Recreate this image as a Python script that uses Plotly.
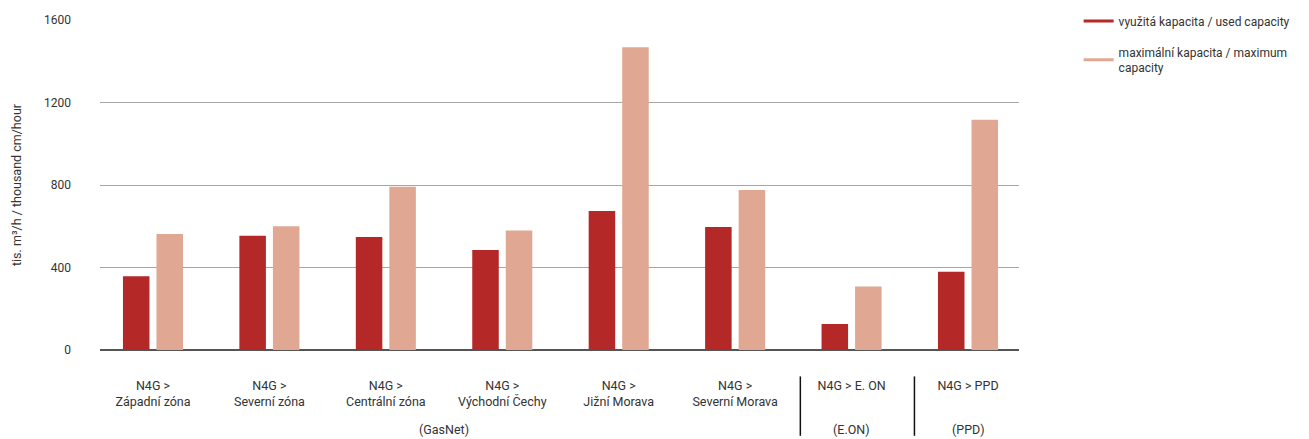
import plotly.graph_objects as go

# Transmission points and their grouping
categories = [
    "N4G ><br>Západní zóna",
    "N4G ><br>Severní zóna",
    "N4G ><br>Centrální zóna",
    "N4G ><br>Východní Čechy",
    "N4G ><br>Jižní Morava",
    "N4G ><br>Severní Morava",
    "N4G > E. ON",
    "N4G > PPD",
]
used_capacity = [358, 554, 548, 485, 674, 596, 126, 379]
max_capacity = [562, 600, 791, 580, 1468, 776, 308, 1116]
y_ticks = [0, 400, 800, 1200, 1600]
operator_labels = ["(GasNet)", "(E.ON)", "(PPD)"]

used_name = "využitá kapacita / used capacity"
max_name = "maximální kapacita / maximum<br>capacity"

COLOR_USED = "#B52828"
COLOR_MAX = "#E0A893"
FONT = "Roboto, DejaVu Sans, sans-serif"
TEXT = "#333333"

x_idx = list(range(len(categories)))

fig = go.Figure()
fig.add_trace(go.Bar(x=x_idx, y=used_capacity, marker=dict(color=COLOR_USED, line=dict(width=0)),
                     showlegend=False, name=used_name))
fig.add_trace(go.Bar(x=x_idx, y=max_capacity, marker=dict(color=COLOR_MAX, line=dict(width=0)),
                     showlegend=False, name=max_name))

# line-style legend entries
fig.add_trace(go.Scatter(x=[None], y=[None], mode="lines", line=dict(color=COLOR_USED, width=3),
                         name=used_name, legendgroup="used"))
fig.add_trace(go.Scatter(x=[None], y=[None], mode="lines", line=dict(color=COLOR_MAX, width=3),
                         name=max_name, legendgroup="max"))

fig.update_layout(
    width=1309, height=439,
    margin=dict(l=100, r=290, t=20, b=89),
    paper_bgcolor="white", plot_bgcolor="white",
    font=dict(family=FONT, size=12, color=TEXT),
    barmode="group", bargap=0.424, bargroupgap=0.209,
    legend=dict(
        xref="container", yref="container", x=0.824, y=0.985,
        xanchor="left", yanchor="top",
        font=dict(size=12, color=TEXT), tracegroupgap=12,
        itemwidth=30, bgcolor="rgba(0,0,0,0)",
    ),
)

fig.update_yaxes(
    range=[0, 1600], tickvals=y_ticks, ticktext=[str(v) for v in y_ticks],
    showgrid=True, gridcolor="#A6A6A6", gridwidth=1,
    zeroline=True, zerolinecolor="#555555", zerolinewidth=2,
    showline=False, ticks="", ticklabelstandoff=28,
    tickfont=dict(size=12, color=TEXT),
    title=dict(text="tis. m³/h / thousand cm/hour", font=dict(size=12.5, color=TEXT), standoff=19),
)

fig.update_xaxes(
    range=[-0.455, 7.438], tickvals=x_idx, ticktext=categories,
    showgrid=False, zeroline=False, showline=False, ticks="",
    ticklabelstandoff=26, tickfont=dict(size=12.5, color=TEXT),
)

# operator group labels below the category labels
group_centers = [2.5, 6, 7]
for label, xc in zip(operator_labels, group_centers):
    fig.add_annotation(x=xc, xref="x", y=-0.24, yref="paper", yanchor="middle",
                       text=label, showarrow=False, font=dict(size=12.5, color=TEXT))

# separators between operator groups
for xs in [5.56, 6.54]:
    fig.add_shape(type="line", xref="x", yref="paper", x0=xs, x1=xs, y0=-0.08, y1=-0.26,
                  line=dict(color="#111111", width=1.5))

fig.write_html("out.html")
